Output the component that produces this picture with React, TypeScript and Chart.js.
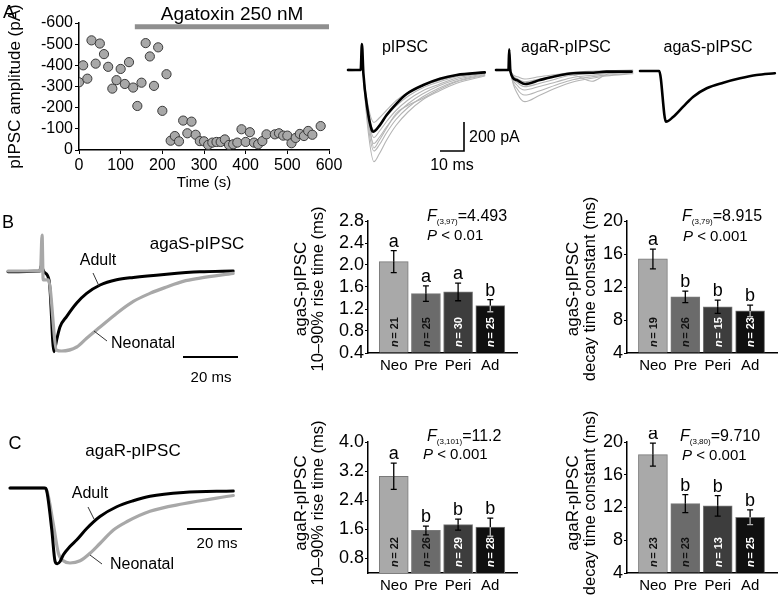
import React, { useEffect, useRef } from "react";
import { Chart, registerables } from "chart.js";
Chart.register(...registerables);

const FONT = '"Liberation Sans", Arial, Helvetica, sans-serif';
Chart.defaults.font.family = FONT;
Chart.defaults.color = "#000";

// ---------- Panel A: amplitude time course ----------
const timeS = [0,10,20,30,40,50,60,70,80,90,100,110,120,130,140,150,160,170,180,190,200,210,220,230,240,250,260,270,280,290,300,310,320,330,340,350,360,370,380,390,400,410,420,430,440,450,470,480,490,500,510,520,530,540,550,560,580];
const ampPA = [-320,-400,-337,-518,-408,-503,-453,-393,-290,-330,-383,-312,-415,-295,-208,-318,-505,-442,-303,-485,-185,-358,-44,-66,-41,-139,-79,-134,-72,-42,-41,-24,-35,-38,-38,-50,-24,-27,-35,-98,-38,-84,-35,-27,-42,-74,-74,-79,-68,-68,-32,-57,-76,-66,-90,-72,-113];
const toxinSpan = [134, 600];
const toxinLevel = -582;
const ampTicks = [-600,-500,-400,-300,-200,-100,0];
const timeTicks = [0,100,200,300,400,500,600];

// ---------- Panel A: traces (ms, pA) ----------
const pTimes = [0, 5.3, 5.8, 6.4, 8.0, 9.9, 10.6, 13.3, 16.1, 20.3, 24.4, 31.4, 38.3, 45.3, 57];
const pBlack = [0, 0, 173, -20, -250, -400, -411, -367, -300, -222, -160, -100, -58, -33, -16];
const pGrayTimes = [0, 5.3, 5.8, 6.4, 8.5, 10.8, 13, 16, 20, 25, 31, 38, 45, 57];
const pGray1 = [0, 0, 120, -40, -420, -611, -560, -470, -370, -280, -200, -140, -90, -40];
const pGray2 = [5, 0, 110, -40, -380, -540, -500, -420, -330, -250, -180, -120, -75, -30];
const pGray3 = [-5, 0, 100, -30, -350, -490, -450, -380, -300, -225, -160, -105, -65, -25];
const pGray4 = [3, 0, 100, -30, -320, -450, -410, -345, -270, -200, -140, -95, -55, -20];
const pGray5 = [-3, 0, 90, -30, -290, -400, -370, -310, -240, -175, -120, -80, -45, -15];
const pGray6 = [0, 0, 90, -25, -250, -350, -320, -270, -205, -150, -105, -70, -40, -12];
const pGray7 = [6, 0, 80, -20, -300, -520, -470, -390, -290, -235, -190, -130, -80, -35];

const rTimes = [0, 5.2, 5.5, 6.0, 8.6, 12.1, 18.3, 25.3, 32.2, 40.6, 46.1, 56.5];
const rBlack = [0, 0, 138, -10, -67, -93, -67, -40, -22, -18, -11, -11];
const rGrayTimes = [0, 5.2, 5.6, 6.2, 9, 12, 18, 25, 32, 40, 46, 57];
const rGray1 = [0, 0, 80, -20, -160, -211, -170, -120, -80, -55, -40, -25];
const rGray2 = [5, 0, 80, -20, -130, -167, -140, -100, -65, -45, -35, -20];
const rGray3 = [-5, 0, 70, -15, -105, -133, -110, -80, -50, -35, -25, -15];
const rGray4 = [3, 0, 70, -15, -85, -111, -90, -60, -35, -75, -30, -10];
const rGray5 = [-3, 0, 60, -10, -60, -78, -60, -40, -25, -15, -10, -5];
const rGray6 = [0, 0, 60, -10, -45, -60, -45, -30, -15, -8, -5, 0];

const sTimes = [0, 8.0, 10.8, 13.9, 18, 22.2, 27.8, 34.7, 41.7, 48.6, 56.2];
const sBlack = [0, 0, -338, -305, -238, -171, -115, -78, -49, -27, -15];

// ---------- Panel B / C traces (ms, normalized) ----------
const bAdultT = [0, 11.6, 12.0, 13.1, 14.9, 15.3, 16.7, 17.7, 18.9, 21.3, 25, 28.6, 33.5, 39.5, 45.6, 57.7, 69.8, 81.9];
const bAdult = [-0.01, 0, 0.06, -0.01, -0.11, -0.24, -1.01, -0.86, -0.70, -0.57, -0.40, -0.28, -0.175, -0.11, -0.08, -0.04, -0.01, 0];
const bNeoT = [0, 11.8, 12.4, 12.8, 14.7, 17.7, 19.5, 25, 28.6, 33.5, 39.5, 45.6, 51.6, 57.7, 63.7, 69.8, 81.9];
const bNeo = [0, 0, 0.45, -0.11, -0.11, -0.99, -1.0, -0.95, -0.84, -0.70, -0.53, -0.38, -0.28, -0.20, -0.13, -0.09, -0.03];

const cAdultT = [0, 12.7, 13.3, 15.2, 16.4, 17.2, 18.2, 19.4, 21.8, 24.3, 27.9, 32.7, 38.8, 44.8, 50.9, 63, 81.2];
const cAdult = [0, 0, -0.03, -0.56, -0.98, -1.01, -0.98, -0.89, -0.78, -0.69, -0.54, -0.38, -0.25, -0.17, -0.11, -0.06, -0.04];
const cNeoT = [0, 12, 13.3, 15.7, 17.6, 19.4, 21.8, 25.5, 29.1, 32.7, 37.6, 42.4, 50.9, 63, 81.2];
const cNeo = [0, 0, -0.03, -0.47, -0.87, -0.97, -1.0, -0.97, -0.87, -0.74, -0.56, -0.45, -0.31, -0.21, -0.10];

// ---------- Bar charts ----------
const categories = ["Neo", "Pre", "Peri", "Ad"];
const barColors = ["#a9a9a9", "#6b6b6b", "#3d3d3d", "#101010"];
const nColors = ["#111", "#111", "#fff", "#fff"];
const innerErrColors = ["#000", "#000", "#000", "#b5b5b5"];

const riseS = [2.06, 1.48, 1.51, 1.26];
const riseSErr = [0.2, 0.14, 0.16, 0.11];
const riseSLetters = ["a", "a", "a", "b"];
const riseSN = [21, 25, 30, 25];
const riseSTicks = [0.4, 0.8, 1.2, 1.6, 2.0, 2.4, 2.8];

const decayS = [15.4, 10.8, 9.6, 9.1];
const decaySErr = [1.2, 0.7, 0.8, 0.7];
const decaySLetters = ["a", "b", "b", "b"];
const decaySN = [19, 26, 15, 23];
const decayTicks = [4, 8, 12, 16, 20];

const riseR = [3.06, 1.57, 1.73, 1.66];
const riseRErr = [0.36, 0.12, 0.15, 0.25];
const riseRLetters = ["a", "b", "b", "b"];
const riseRN = [22, 26, 29, 28];
const riseRTicks = [0.8, 1.6, 2.4, 3.2, 4.0];
const riseRMin = 0.4;

const decayR = [18.46, 12.47, 12.2, 10.8];
const decayRErr = [1.4, 1.1, 1.25, 0.9];
const decayRLetters = ["a", "b", "b", "b"];
const decayRN = [23, 23, 13, 25];

const pts = (xs: number[], ys: number[]) => xs.map((x, i) => ({ x, y: ys[i] }));

const barAnnot = {
  id: "barAnnot",
  afterDatasetsDraw(chart: any, _a: any, opts: any) {
    const { ctx, chartArea } = chart;
    const xs = chart.scales.x, ys = chart.scales.y;
    ctx.save();
    opts.values.forEach((v: number, i: number) => {
      const cx = xs.getPixelForValue(i + 1);
      const e = opts.errs[i];
      const yTop = ys.getPixelForValue(v + e);
      const yBar = ys.getPixelForValue(v);
      const yBot = ys.getPixelForValue(v - e);
      ctx.lineWidth = 1.3;
      ctx.strokeStyle = "#000";
      ctx.beginPath();
      ctx.moveTo(cx, yTop); ctx.lineTo(cx, yBar);
      ctx.moveTo(cx - 3, yTop); ctx.lineTo(cx + 3, yTop);
      ctx.stroke();
      ctx.strokeStyle = innerErrColors[i];
      ctx.beginPath();
      ctx.moveTo(cx, yBar); ctx.lineTo(cx, yBot);
      ctx.moveTo(cx - 3, yBot); ctx.lineTo(cx + 3, yBot);
      ctx.stroke();
      ctx.fillStyle = "#000";
      ctx.font = `18px ${FONT}`;
      ctx.textAlign = "center";
      ctx.textBaseline = "alphabetic";
      ctx.fillText(opts.letters[i], cx, yTop - 4);
      ctx.save();
      ctx.translate(cx + 1, chartArea.bottom - 6);
      ctx.rotate(-Math.PI / 2);
      ctx.fillStyle = nColors[i];
      ctx.textBaseline = "middle";
      ctx.textAlign = "left";
      ctx.font = `italic bold 11px ${FONT}`;
      ctx.fillText("n", 0, 0);
      const w = ctx.measureText("n").width;
      ctx.font = `bold 11px ${FONT}`;
      ctx.fillText(`= ${opts.ns[i]}`, w + 1.5, 0);
      ctx.restore();
    });
    ctx.restore();
  },
};

function barConfig(values: number[], errs: number[], letters: string[], ns: number[], yTicks: number[], yMin: number, decimals: number, yWidth: number, xHeight: number): any {
  const yMax = yTicks[yTicks.length - 1];
  return {
    type: "bar",
    data: {
      datasets: [{
        data: categories.map((_c, i) => ({ x: i + 1, y: values[i] })),
        backgroundColor: barColors,
        borderColor: "#7a7a7a",
        borderWidth: 1,
        barThickness: 29,
        base: yMin,
      }],
    },
    options: {
      animation: false,
      responsive: false,
      events: [],
      layout: { padding: { left: 0, right: 1, top: 12, bottom: 0 } },
      plugins: { legend: { display: false }, tooltip: { enabled: false }, barAnnot: { values, errs, letters, ns } },
      scales: {
        x: {
          type: "linear", min: 0.2, max: 4.83, offset: false,
          afterBuildTicks: (s: any) => { s.ticks = categories.map((_c, i) => ({ value: i + 1 })); },
          ticks: { callback: (v: any) => categories[v - 1], font: { size: 15 }, color: "#000", padding: 4, maxRotation: 0, autoSkip: false },
          grid: { display: false, drawTicks: false, offset: false },
          border: { color: "#000", width: 1.5 },
          afterFit: (s: any) => { s.height = xHeight; },
        },
        y: {
          type: "linear", min: yMin, max: yMax,
          afterBuildTicks: (s: any) => { s.ticks = yTicks.map((v) => ({ value: v })); },
          ticks: { callback: (v: any) => Number(v).toFixed(decimals), font: { size: 18 }, color: "#000", padding: 1, autoSkip: false },
          grid: { drawOnChartArea: false, tickLength: 3, color: "#000" },
          border: { color: "#000", width: 1.5 },
          afterFit: (s: any) => { s.width = yWidth; },
        },
      },
    },
    plugins: [barAnnot],
  };
}

function traceConfig(datasets: any[], xr: number[], yr: number[]): any {
  return {
    type: "line",
    data: { datasets },
    options: {
      animation: false,
      responsive: false,
      events: [],
      layout: { padding: 0 },
      plugins: { legend: { display: false }, tooltip: { enabled: false } },
      elements: { point: { radius: 0 } },
      scales: {
        x: { type: "linear", display: false, min: xr[0], max: xr[1] },
        y: { type: "linear", display: false, min: yr[0], max: yr[1] },
      },
    },
  };
}

const line = (data: any[], color: string, width: number) => ({
  data, borderColor: color, borderWidth: width, pointRadius: 0, fill: false,
  cubicInterpolationMode: "monotone", borderJoinStyle: "round", borderCapStyle: "round",
});

function scatterConfig(): any {
  return {
    type: "scatter",
    data: {
      datasets: [
        { data: pts(timeS, ampPA), pointRadius: 4.6, backgroundColor: "#a8a8a8", borderColor: "#3a3a3a", borderWidth: 1 },
        { type: "line", data: [{ x: toxinSpan[0], y: toxinLevel }, { x: toxinSpan[1], y: toxinLevel }], borderColor: "#8f8f8f", borderWidth: 5, pointRadius: 0, borderCapStyle: "butt" },
      ],
    },
    options: {
      animation: false,
      responsive: false,
      events: [],
      layout: { padding: { left: 0, top: 23, right: 20, bottom: 0 } },
      plugins: { legend: { display: false }, tooltip: { enabled: false } },
      scales: {
        x: {
          type: "linear", min: 0, max: 600,
          afterBuildTicks: (s: any) => { s.ticks = timeTicks.map((v) => ({ value: v })); },
          ticks: { font: { size: 16 }, color: "#000", padding: 2, maxRotation: 0, autoSkip: false },
          grid: { drawOnChartArea: false, tickLength: 4, color: "#000" },
          border: { color: "#000", width: 1.5 },
          title: { display: true, text: "Time (s)", font: { size: 15 }, color: "#000", padding: { top: 0, bottom: 3 } },
          afterFit: (s: any) => { s.height = 45; },
        },
        y: {
          type: "linear", min: -600, max: 0, reverse: true,
          afterBuildTicks: (s: any) => { s.ticks = ampTicks.map((v) => ({ value: v })); },
          ticks: { font: { size: 16 }, color: "#000", padding: 2, autoSkip: false, callback: (v: any) => String(v) },
          grid: { drawOnChartArea: false, tickLength: 4, color: "#000" },
          border: { color: "#000", width: 1.5 },
          title: { display: true, text: "pIPSC amplitude (pA)", font: { size: 17 }, color: "#000", padding: { top: 5, bottom: 0 } },
          afterFit: (s: any) => { s.width = 79; },
        },
      },
    },
  };
}

function ChartBox({ left, top, width, height, make }: any) {
  const ref = useRef<HTMLCanvasElement>(null);
  useEffect(() => {
    const chart = new Chart(ref.current as HTMLCanvasElement, make());
    return () => chart.destroy();
  }, []);
  return <canvas ref={ref} width={width} height={height} style={{ position: "absolute", left, top, width, height }} />;
}

function T({ x, y, size, children, align = "center", rotate = 0, style = {} }: any) {
  const tx = align === "center" ? "-50%" : align === "right" ? "-100%" : "0";
  return (
    <div style={{ position: "absolute", left: x, top: y, transform: `translate(${tx},-50%)${rotate ? ` rotate(${rotate}deg)` : ""}`, fontSize: size, lineHeight: 1, whiteSpace: "nowrap", fontFamily: FONT, color: "#000", ...style }}>
      {children}
    </div>
  );
}

function Stat({ x, y, df, val }: any) {
  return (
    <T x={x} y={y} size={16} align="left">
      <i>F</i><span style={{ fontSize: 8, verticalAlign: -3 }}>{df}</span>={val}
    </T>
  );
}

function YTitle({ x, y, l1, l2 }: any) {
  return (
    <>
      <T x={x} y={y} size={17} rotate={-90}>{l1}</T>
      <T x={x + 17} y={y} size={16.5} rotate={-90}>{l2}</T>
    </>
  );
}

const pr = [-0.83, 57.5];
const pyr = [-653, 213];
const gray = "#b4b4b4";

export default function App() {
  return (
    <div style={{ position: "absolute", left: 0, top: 0, width: 779, height: 597, overflow: "hidden", background: "#fff", fontFamily: FONT }}>
      <ChartBox left={0} top={0} width={349} height={195} make={scatterConfig} />
      <ChartBox left={346} top={38} width={140} height={130} make={() => traceConfig([
        line(pts(pTimes, pBlack), "#000", 2.6),
        line(pts(pGrayTimes, pGray1), gray, 1.1),
        line(pts(pGrayTimes, pGray2), gray, 1.1),
        line(pts(pGrayTimes, pGray3), gray, 1.1),
        line(pts(pGrayTimes, pGray4), gray, 1.1),
        line(pts(pGrayTimes, pGray5), gray, 1.1),
        line(pts(pGrayTimes, pGray6), gray, 1.1),
        line(pts(pGrayTimes, pGray7), gray, 1.1),
      ], pr, pyr)} />
      <ChartBox left={494} top={38} width={140} height={130} make={() => traceConfig([
        line(pts(rTimes, rBlack), "#000", 2.6),
        line(pts(rGrayTimes, rGray1), gray, 1.1),
        line(pts(rGrayTimes, rGray2), gray, 1.1),
        line(pts(rGrayTimes, rGray3), gray, 1.1),
        line(pts(rGrayTimes, rGray4), gray, 1.1),
        line(pts(rGrayTimes, rGray5), gray, 1.1),
        line(pts(rGrayTimes, rGray6), gray, 1.1),
      ], pr, pyr)} />
      <ChartBox left={638} top={39} width={140} height={130} make={() => traceConfig([
        line(pts(sTimes, sBlack), "#000", 2.6),
      ], pr, pyr)} />

      <ChartBox left={5} top={228} width={240} height={130} make={() => traceConfig([
        line(pts(bNeoT, bNeo), "#a8a8a8", 3.2),
        line(pts(bAdultT, bAdult), "#000", 3),
      ], [-1.09, 86.2], [-1.0875, 0.5375])} />
      <ChartBox left={5} top={470} width={240} height={105} make={() => traceConfig([
        line(pts(cAdultT, cAdult), "#000", 3),
        line(pts(cNeoT, cNeo), "#a8a8a8", 3.2),
      ], [-1.82, 85.45], [-1.16, 0.24])} />

      <ChartBox left={291} top={209} width={227} height={169} make={() => barConfig(riseS, riseSErr, riseSLetters, riseSN, riseSTicks, riseSTicks[0], 1, 77, 25)} />
      <ChartBox left={563} top={209} width={215} height={169} make={() => barConfig(decayS, decaySErr, decaySLetters, decaySN, decayTicks, decayTicks[0], 0, 64, 25)} />
      <ChartBox left={291} top={430} width={227} height={166} make={() => barConfig(riseR, riseRErr, riseRLetters, riseRN, riseRTicks, riseRMin, 1, 77, 23)} />
      <ChartBox left={563} top={430} width={215} height={166} make={() => barConfig(decayR, decayRErr, decayRLetters, decayRN, decayTicks, decayTicks[0], 0, 64, 23)} />

      <YTitle x={300} y={289} l1="agaS-pIPSC" l2="10–90% rise time (ms)" />
      <YTitle x={572} y={289} l1="agaS-pIPSC" l2="decay time constant (ms)" />
      <YTitle x={300} y={503} l1="agaR-pIPSC" l2="10–90% rise time (ms)" />
      <YTitle x={572} y={503} l1="agaR-pIPSC" l2="decay time constant (ms)" />

      <svg width={779} height={597} style={{ position: "absolute", left: 0, top: 0, pointerEvents: "none" }}>
        <polyline points="440,151 464,151 464,122" stroke="#000" strokeWidth={1.6} fill="none" />
        <line x1={93} y1={273} x2={99} y2={286} stroke="#333" strokeWidth={1} />
        <line x1={94} y1={331} x2={107} y2={341} stroke="#333" strokeWidth={1} />
        <line x1={183} y1={357} x2={238} y2={357} stroke="#000" strokeWidth={2} />
        <line x1={88} y1={507} x2={94} y2={519} stroke="#333" strokeWidth={1} />
        <line x1={90} y1={555} x2={102} y2={564} stroke="#333" strokeWidth={1} />
        <line x1={187} y1={529} x2={242} y2={529} stroke="#000" strokeWidth={2} />
      </svg>

      <T x={9} y={12} size={18}>A</T>
      <T x={232} y={13} size={19}>Agatoxin 250 nM</T>
      <T x={405} y={47} size={16}>pIPSC</T>
      <T x={566} y={47} size={16}>agaR-pIPSC</T>
      <T x={708} y={47} size={16}>agaS-pIPSC</T>
      <T x={469} y={137} size={16} align="left">200 pA</T>
      <T x={452} y={165} size={16}>10 ms</T>

      <T x={8} y={222} size={18}>B</T>
      <T x={197} y={243} size={17}>agaS-pIPSC</T>
      <T x={98} y={260} size={16}>Adult</T>
      <T x={143} y={343} size={16}>Neonatal</T>
      <T x={211} y={376} size={15}>20 ms</T>
      <Stat x={427} y={217} df="(3,97)" val="4.493" />
      <T x={427} y={234} size={15} align="left"><i>P</i> &lt; 0.01</T>
      <Stat x={682} y={217} df="(3,79)" val="8.915" />
      <T x={683} y={235} size={15} align="left"><i>P</i> &lt; 0.001</T>

      <T x={15} y={443} size={18}>C</T>
      <T x={133} y={450} size={17}>agaR-pIPSC</T>
      <T x={90} y={493} size={16}>Adult</T>
      <T x={142} y={564} size={16}>Neonatal</T>
      <T x={217} y={542} size={15}>20 ms</T>
      <Stat x={427} y={437} df="(3,101)" val="11.2" />
      <T x={423} y={453} size={15} align="left"><i>P</i> &lt; 0.001</T>
      <Stat x={680} y={437} df="(3,80)" val="9.710" />
      <T x={682} y={454} size={15} align="left"><i>P</i> &lt; 0.001</T>
    </div>
  );
}
